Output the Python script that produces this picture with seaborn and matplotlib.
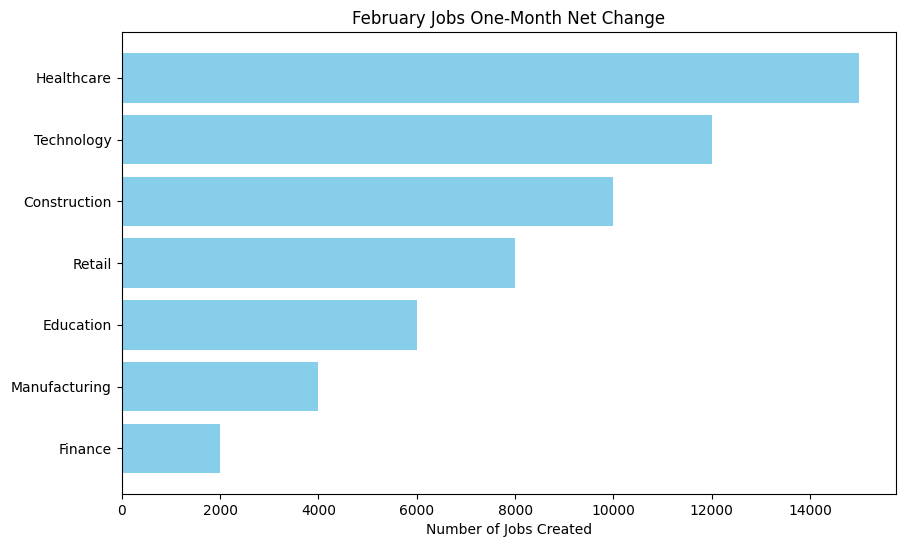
import matplotlib
matplotlib.use("Agg")
import matplotlib.pyplot as plt
import seaborn as sns
import pandas as pd

categories = ["Healthcare", "Technology", "Construction", "Retail", "Education", "Manufacturing", "Finance"]
jobs = [15000, 12000, 10000, 8000, 6000, 4000, 2000]

df = pd.DataFrame({"Industry": categories, "Jobs": jobs})

fig = plt.figure(figsize=(9.12, 5.45), dpi=100)
ax = fig.add_axes([0.1334, 0.0936, 0.8493, 0.8472])
sns.barplot(data=df, x="Jobs", y="Industry", orient="h", color="skyblue",
            saturation=1, width=0.8, ax=ax)
n = len(categories)
ax.set_ylim(n - 1 + 0.74, -0.74)
ax.set_xlim(0, max(jobs) * 1.05)
ax.set_ylabel("")
ax.set_xlabel("Number of Jobs Created")
ax.set_title("February Jobs One-Month Net Change")
fig.savefig("out.png", dpi=100)
